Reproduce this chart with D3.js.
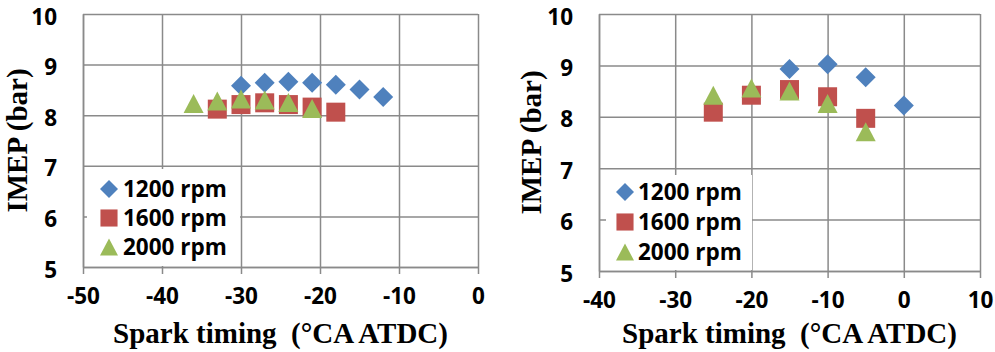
<!DOCTYPE html>
<html>
<head>
<meta charset="utf-8">
<script src="https://cdn.jsdelivr.net/npm/d3@7"></script>
<style>
    html, body { margin: 0; padding: 0; background: #fff; }
    svg { display: block; }
    .tick-label { font-family: "Open Sans", Lato, sans-serif; font-weight: 700; font-size: 22.5px; fill: #000; }
    .legend-label { font-family: "Open Sans", Lato, sans-serif; font-weight: 700; font-size: 22.5px; fill: #000; }
    .axis-title { font-family: "Liberation Serif", "DejaVu Serif", serif; font-weight: 700; font-size: 29px; fill: #000; white-space: pre; }
</style>
</head>
<body>
<script>
// series names and colours
const seriesNames = ["1200 rpm", "1600 rpm", "2000 rpm"];
const seriesColours = ["#4f81bd", "#c0504d", "#9bbb59"];
const seriesShapes = ["diamond", "square", "triangle"];

// left panel
const leftTiming1200 = [-30, -27, -24, -21, -18, -15, -12];
const leftImep1200 = [8.58, 8.64, 8.66, 8.64, 8.60, 8.51, 8.36];
const leftTiming1600 = [-33, -30, -27, -24, -21, -18];
const leftImep1600 = [8.12, 8.21, 8.245, 8.21, 8.16, 8.06];
const leftTiming2000 = [-36, -33, -30, -27, -24, -21];
const leftImep2000 = [8.23, 8.28, 8.32, 8.30, 8.25, 8.13];
const leftXTicks = [-50, -40, -30, -20, -10, 0];

// right panel
const rightTiming1200 = [-15, -10, -5, 0];
const rightImep1200 = [8.93, 9.02, 8.77, 8.22];
const rightTiming1600 = [-25, -20, -15, -10, -5];
const rightImep1600 = [8.09, 8.42, 8.53, 8.39, 7.97];
const rightTiming2000 = [-25, -20, -15, -10, -5];
const rightImep2000 = [8.42, 8.56, 8.50, 8.26, 7.71];
const rightXTicks = [-40, -30, -20, -10, 0, 10];

const yTicks = [5, 6, 7, 8, 9, 10];
const xTitle = "Spark timing  (°CA ATDC)";
const yTitle = "IMEP (bar)";

const width = 995,
    height = 352,
    gridColour = "#8a8a8a",
    plainNumber = d => String(d);

const svg = d3.select("body").append("svg")
    .attr("width", width)
    .attr("height", height)
    .attr("viewBox", `0 0 ${width} ${height}`);

// marker path, centred on 0,0
function markerPath(shape, s) {
    if (shape === "diamond") {
        const h = s / 2;
        return `M0,${-h}L${h},0L0,${h}L${-h},0Z`;
    }
    if (shape === "square") {
        const h = s * 0.95 / 2;
        return `M${-h},${-h}H${h}V${h}H${-h}Z`;
    }
    const w = s / 2, h = s * 0.95 / 2;
    return `M0,${-h}L${w},${h}L${-w},${h}Z`;
}

function drawPanel(panel) {
    const x = d3.scaleLinear()
            .domain(d3.extent(panel.xTicks))
            .range([panel.left, panel.right]),
        y = d3.scaleLinear()
            .domain([5, 10])
            .range([panel.bottom, panel.top]);

    const g = svg.append("g");

    // horizontal gridlines
    g.append("g")
        .attr("transform", `translate(${panel.left},0)`)
        .call(d3.axisLeft(y).tickValues(yTicks).tickSize(-(panel.right - panel.left)).tickFormat(""))
        .call(a => a.select(".domain").remove())
        .call(a => a.selectAll("line").attr("stroke", gridColour).attr("stroke-width", 1.5));

    // vertical gridlines
    g.append("g")
        .attr("transform", `translate(0,${panel.top})`)
        .call(d3.axisBottom(x).tickValues(panel.xTicks).tickSize(panel.bottom - panel.top).tickFormat(""))
        .call(a => a.select(".domain").remove())
        .call(a => a.selectAll("line").attr("stroke", gridColour).attr("stroke-width", 1.5));

    // x axis with outside ticks
    g.append("g")
        .attr("transform", `translate(0,${panel.bottom})`)
        .call(d3.axisBottom(x).tickValues(panel.xTicks).tickFormat(plainNumber).tickSizeInner(7).tickSizeOuter(0).tickPadding(14))
        .call(a => a.select(".domain").attr("stroke", gridColour).attr("stroke-width", 1.5))
        .call(a => a.selectAll("line").attr("stroke", gridColour).attr("stroke-width", 1.5))
        .call(a => a.selectAll("text").attr("class", "tick-label").attr("font-size", null).attr("font-family", null).attr("fill", null));

    // y axis labels
    g.append("g")
        .attr("transform", `translate(${panel.left},0)`)
        .call(d3.axisLeft(y).tickValues(yTicks).tickFormat(plainNumber).tickSize(0).tickPadding(26))
        .call(a => a.select(".domain").attr("stroke", gridColour).attr("stroke-width", 1.5))
        .call(a => a.selectAll("text").attr("class", "tick-label").attr("font-size", null).attr("font-family", null).attr("fill", null).attr("dy", "0.45em"));

    // legend box covers the gridlines
    const lg = g.append("g");
    lg.append("rect")
        .attr("x", panel.legend.x)
        .attr("y", panel.legend.y)
        .attr("width", panel.legend.w)
        .attr("height", panel.legend.h)
        .attr("fill", "#fff");

    seriesNames.forEach((name, i) => {
        const cy = panel.legend.y + panel.legend.rowTop + i * panel.legend.rowGap;
        lg.append("path")
            .attr("transform", `translate(${panel.legend.x + panel.legend.markerX},${cy})`)
            .attr("d", markerPath(seriesShapes[i], 18))
            .attr("fill", seriesColours[i]);
        lg.append("text")
            .attr("class", "legend-label")
            .attr("x", panel.legend.x + panel.legend.textX)
            .attr("y", cy)
            .attr("dy", "0.36em")
            .text(name);
    });

    // points, drawn series by series
    panel.series.forEach((s, i) => {
        g.append("g")
            .selectAll("path")
            .data(d3.zip(s.timing, s.imep))
            .enter()
            .append("path")
            .attr("transform", d => `translate(${x(d[0])},${y(d[1])})`)
            .attr("d", markerPath(seriesShapes[i], 20))
            .attr("fill", seriesColours[i]);
    });

    // axis titles
    g.append("text")
        .attr("class", "axis-title")
        .attr("x", (panel.left + panel.right) / 2)
        .attr("y", panel.xTitleY)
        .attr("text-anchor", "middle")
        .text(xTitle);

    g.append("text")
        .attr("class", "axis-title")
        .attr("transform", `translate(${panel.yTitleX},${(panel.top + panel.bottom) / 2}) rotate(-90)`)
        .attr("text-anchor", "middle")
        .text(yTitle);
}

drawPanel({
    left: 83, right: 478, top: 14, bottom: 267,
    xTicks: leftXTicks,
    xTitleY: 343,
    yTitleX: 27,
    legend: { x: 87, y: 169, w: 153, h: 97, markerX: 22, textX: 36, rowTop: 20, rowGap: 29 },
    series: [
        { timing: leftTiming1200, imep: leftImep1200 },
        { timing: leftTiming1600, imep: leftImep1600 },
        { timing: leftTiming2000, imep: leftImep2000 }
    ]
});

drawPanel({
    left: 599, right: 980, top: 14, bottom: 271,
    xTicks: rightXTicks,
    xTitleY: 343,
    yTitleX: 541,
    legend: { x: 606, y: 175, w: 146, h: 95, markerX: 19, textX: 32, rowTop: 17, rowGap: 30 },
    series: [
        { timing: rightTiming1200, imep: rightImep1200 },
        { timing: rightTiming1600, imep: rightImep1600 },
        { timing: rightTiming2000, imep: rightImep2000 }
    ]
});
</script>
</body>
</html>
